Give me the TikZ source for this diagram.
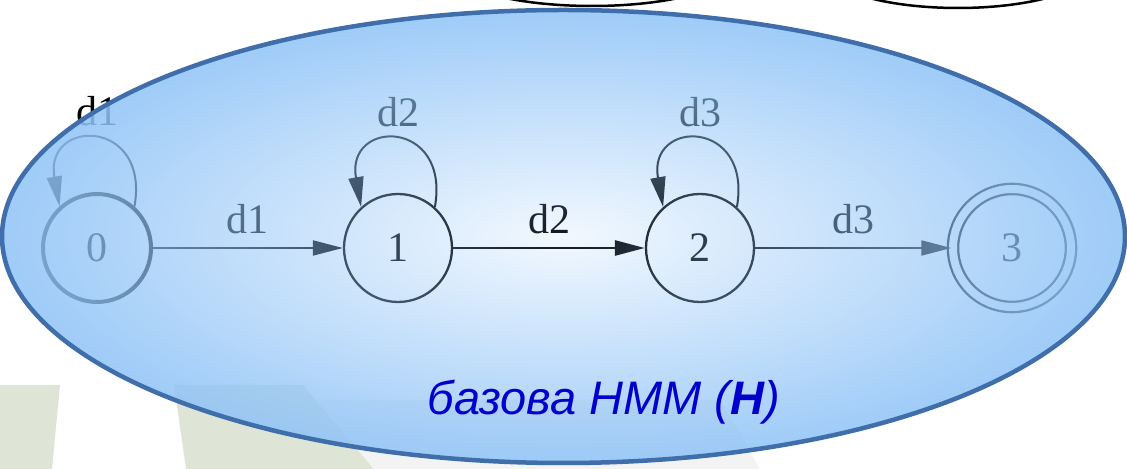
\documentclass[tikz,border=0pt]{standalone}
\usepackage{fontspec}
\setmainfont{Liberation Serif}
\newfontfamily\capfont{Liberation Sans}
\usetikzlibrary{automata, positioning, arrows.meta, fadings}
\definecolor{hmmfill}{RGB}{145,196,247}
\definecolor{hmmedge}{RGB}{64,110,170}
\definecolor{capblue}{RGB}{0,0,204}
\definecolor{markgreen}{RGB}{222,228,214}
\definecolor{markgrey}{RGB}{243,243,243}
\tikzset{>={Triangle[length=15pt,width=7.5pt]},
every state/.style={draw=black, line width=1.15pt, minimum size=54pt, inner sep=0pt},
every edge/.append style={->, line width=1pt},
start/.style={line width=2pt},
final/.style={accepting, double distance=4pt, minimum size=59pt},
selfloop/.style={out=80, in=100, distance=45pt},
}
\tikzfading[name=hmmfade, inner color=transparent!88, outer color=transparent!12]
\newcommand{\lbl}{\fontsize{21pt}{25pt}\selectfont}

\begin{document}
\begin{tikzpicture}[x=1pt, y=1pt, font=\lbl]
    \useasboundingbox (-48.5,-110.5) rectangle (515,124);
    \clip (-48.5,-110.5) rectangle (515,124);
    % background marks
    \fill[markgreen] (-48.5,-68.5) -- (-18.5,-68.5) -- (-22.5,-110.5) -- (-48.5,-110.5) -- cycle;
    \fill[markgreen] (38.5,-68.5) -- (103,-68.5) -- (138.5,-110.5) -- (44.5,-110.5) -- cycle;
    \fill[markgrey] (109.3,-76) -- (311.5,-76) -- (331.5,-110.5) -- (138.5,-110.5) -- cycle;
    \draw[line width=1.25pt] (247.5,141) ellipse [x radius=72, y radius=20];
    \draw[line width=1.25pt] (430.5,140) ellipse [x radius=67, y radius=20];
    % the automaton
    \node[state, start] (q0) {0};
    \node[state, xshift=150.5pt] (q1) {1};
    \node[state, xshift=301.5pt] (q2) {2};
    \node[state, final, xshift=457.5pt] (q3) {3};
    \draw
        (q0.48) edge[selfloop] node[above, yshift=3pt]{d1} (q0.132)
        (q0) edge[] node[above, yshift=3pt]{d1} (q1)
        (q1.48) edge[selfloop] node[above, yshift=3pt]{d2} (q1.132)
        (q1) edge[line width=1.4pt] node[above, yshift=3pt]{d2} (q2)
        (q2.48) edge[selfloop] node[above, yshift=3pt]{d3} (q2.132)
        (q2) edge[] node[above, yshift=3pt]{d3} (q3)
        ;
    % base HMM region
    \fill[hmmfill, path fading=hmmfade] (233.25,5.75) ellipse [x radius=280.75, y radius=113.25];
    \draw[hmmedge, line width=2.25pt] (233.25,5.75) ellipse [x radius=280.75, y radius=113.25];
    \node[font=\capfont\itshape\fontsize{23.5pt}{27pt}\selectfont, text=capblue, anchor=base] (cap) at (253.5,-83.5) {базова НММ (\textbf{Н})};
\end{tikzpicture}
\end{document}
